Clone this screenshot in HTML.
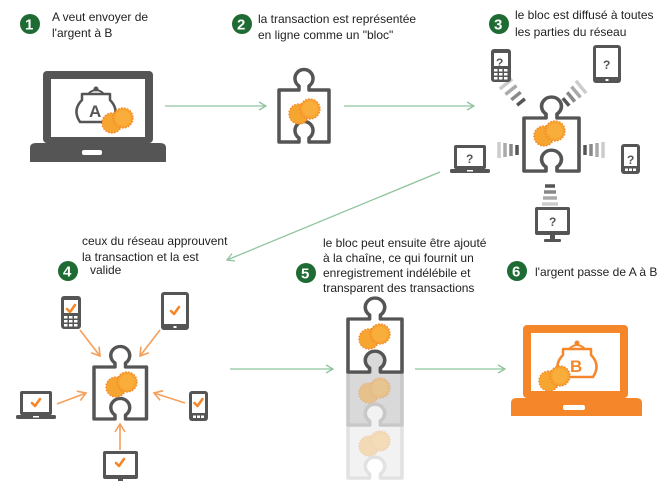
<!DOCTYPE html>
<html><head><meta charset="utf-8"><style>
html,body{margin:0;padding:0;background:#fff;}
svg{display:block;}
text{font-family:"Liberation Sans",sans-serif;font-size:12px;fill:#222;}
.b{font-family:"Liberation Sans",sans-serif;font-weight:bold;font-size:15px;fill:#fff;}
</style></head><body>
<svg width="661" height="481" viewBox="0 0 661 481" xmlns="http://www.w3.org/2000/svg">
<defs>
<g id="pz"><path d="M0,0 H20 V-4 A9 9 0 1 1 30 -4 V0 H50 V52 H30 V48 A9 9 0 1 0 20 48 V52 H0 Z" stroke-linejoin="round"/></g>
<g id="coins">
<circle cx="-5" cy="3" r="10" fill="#f7a531" stroke="#f5872a" stroke-width="1.5" stroke-dasharray="1.5 1.5"/>
<circle cx="6" cy="-2" r="10" fill="#f7a531" stroke="#f5872a" stroke-width="1.5" stroke-dasharray="1.5 1.5"/>
<circle cx="6" cy="-2" r="7.5" fill="#f9ad3a"/>
</g>
<marker id="ag" markerWidth="10" markerHeight="10" refX="8" refY="5" orient="auto" markerUnits="userSpaceOnUse"><path d="M1,1 L8,5 L1,9" fill="none" stroke="#8fc49f" stroke-width="1.3"/></marker>
<marker id="ao" markerWidth="12" markerHeight="12" refX="9" refY="6" orient="auto" markerUnits="userSpaceOnUse"><path d="M1,1 L9,6 L1,11" fill="none" stroke="#f5a05a" stroke-width="1.6"/></marker>
<g id="phone"><rect x="0" y="0" width="20" height="33" rx="3" fill="#555"/><rect x="3" y="4" width="14" height="13" fill="#fff"/><g fill="#fff"><rect x="3" y="20" width="3.5" height="2.5"/><rect x="8" y="20" width="3.5" height="2.5"/><rect x="13" y="20" width="3.5" height="2.5"/><rect x="3" y="24" width="3.5" height="2.5"/><rect x="8" y="24" width="3.5" height="2.5"/><rect x="13" y="24" width="3.5" height="2.5"/><rect x="3" y="28" width="3.5" height="2.5"/><rect x="8" y="28" width="3.5" height="2.5"/><rect x="13" y="28" width="3.5" height="2.5"/></g></g>
<g id="tablet"><rect x="0" y="0" width="28" height="38" rx="3" fill="#555"/><rect x="3" y="3" width="22" height="29" fill="#fff"/><rect x="12.5" y="34" width="3" height="2" fill="#fff"/></g>
<g id="laptop"><rect x="4" y="0" width="32" height="24" rx="2" fill="#555"/><rect x="7" y="3" width="26" height="18" fill="#fff"/><rect x="0" y="24" width="40" height="4" rx="1.5" fill="#555"/><rect x="17" y="25" width="6" height="1.5" fill="#fff"/></g>
<g id="sphone"><rect x="0" y="0" width="19" height="30" rx="3" fill="#555"/><rect x="3" y="3" width="13" height="19" fill="#fff"/><rect x="4" y="24.5" width="3" height="2.5" fill="#fff"/><rect x="8" y="24.5" width="3" height="2.5" fill="#fff"/><rect x="12" y="24.5" width="3" height="2.5" fill="#fff"/></g>
<g id="mon"><rect x="0" y="0" width="35" height="28" rx="2" fill="#555"/><rect x="3" y="3" width="29" height="21" fill="#fff"/><rect x="15" y="28" width="5" height="4" fill="#555"/><rect x="9" y="32" width="17" height="3" rx="1" fill="#555"/></g>
<path id="ck" d="M-4,0 L-1,3 L4,-4" fill="none" stroke="#f5872a" stroke-width="2.6" stroke-linecap="round" stroke-linejoin="round"/>
</defs>

<!-- badges -->
<g fill="#1f6b34">
<circle cx="30" cy="24" r="10"/><circle cx="242" cy="24" r="10"/><circle cx="499" cy="24" r="10"/>
<circle cx="68" cy="271" r="10"/><circle cx="306" cy="273" r="10"/><circle cx="517" cy="271" r="10"/>
</g>
<text class="b" x="25" y="29.5">1</text><text class="b" x="237" y="29.5">2</text><text class="b" x="494" y="29.5">3</text>
<text class="b" x="63" y="276.5">4</text><text class="b" x="301" y="278.5">5</text><text class="b" x="512" y="276.5">6</text>

<text x="52" y="21">A veut envoyer de</text><text x="52" y="37">l'argent à B</text>
<text x="258" y="23">la transaction est représentée</text><text x="258" y="39">en ligne comme un "bloc"</text>
<text x="515" y="19">le bloc est diffusé à toutes</text><text x="515" y="36">les parties du réseau</text>
<text x="82" y="245">ceux du réseau approuvent</text><text x="82" y="261">la transaction et la est</text><text x="90" y="274">valide</text>
<text x="323" y="247">le bloc peut ensuite être ajouté</text><text x="323" y="262">à la chaîne, ce qui fournit un</text><text x="323" y="277">enregistrement indélébile et</text><text x="323" y="292">transparent des transactions</text>
<text x="535" y="276">l'argent passe de A à B</text>

<!-- laptop A -->
<rect x="43" y="71" width="110" height="72" rx="4" fill="#555"/>
<rect x="51" y="79" width="94" height="58" fill="#fff"/>
<path d="M30,148 Q30,143 36,143 H160 Q166,143 166,148 V162 H30 Z" fill="#555"/>
<rect x="82" y="150" width="20" height="5" rx="2" fill="#fff"/>
<path d="M82,94 H110 V100 Q120,110 112,122 H80 Q72,110 82,100 Z" fill="none" stroke="#555" stroke-width="2.5" stroke-linejoin="round"/>
<circle cx="96" cy="89" r="2.5" fill="#555"/><path d="M88,94 Q96,86 104,94" fill="none" stroke="#555" stroke-width="2"/>
<text x="89" y="117" style="font-size:17px;font-weight:bold;fill:#555">A</text>
<use href="#coins" x="117" y="120"/>

<!-- arrows green -->
<g stroke="#8fc49f" stroke-width="1.3" fill="none" marker-end="url(#ag)">
<line x1="165" y1="106" x2="266" y2="106"/>
<line x1="344" y1="106" x2="474" y2="106"/>
<line x1="440" y1="172" x2="227" y2="260"/>
<line x1="230" y1="369" x2="333" y2="369"/>
<line x1="415" y1="369" x2="505" y2="369"/>
</g>

<!-- puzzle 2 -->
<use href="#pz" transform="translate(279,90)" fill="#fff" stroke="#555" stroke-width="3.5"/>
<use href="#coins" x="304" y="111"/>

<!-- waves -->
<g fill="none" stroke-width="3.5">
<g stroke="#555"><path d="M517.1,105.2 L524.9,98.9"/><path d="M562.8,98.2 L569.2,105.8"/><path d="M517,145 v10"/><path d="M585,145 v10"/><path d="M545,186 h10"/></g>
<g stroke="#888"><path d="M511.3,99.8 L520.7,92.2"/><path d="M567.2,92.4 L574.8,101.6"/><path d="M511,144 v12"/><path d="M591,144 v12"/><path d="M544,192 h12"/></g>
<g stroke="#aaa"><path d="M505.5,94.4 L516.5,85.6"/><path d="M571.5,86.6 L580.5,97.4"/><path d="M505,143 v14"/><path d="M597,143 v14"/><path d="M543,198 h14"/></g>
<g stroke="#ccc"><path d="M499.8,89 L512.2,79"/><path d="M575.9,80.8 L586.1,93.2"/><path d="M499,142 v16"/><path d="M603,142 v16"/><path d="M542,204 h16"/></g>
</g>
<!-- puzzle 3 -->
<use href="#pz" transform="translate(524,118) scale(1.1,1.02)" fill="#fff" stroke="#555" stroke-width="3.3"/>
<use href="#coins" x="549" y="133"/>
<use href="#phone" x="491" y="49"/><text x="496" y="67" style="font-weight:bold;font-size:12px;fill:#555">?</text>
<use href="#tablet" x="593" y="45"/><text x="603" y="69" style="font-weight:bold;font-size:12px;fill:#555">?</text>
<use href="#laptop" x="450" y="145"/><text x="466" y="163" style="font-weight:bold;font-size:12px;fill:#555">?</text>
<use href="#sphone" x="621" y="144"/><text x="627" y="164" style="font-weight:bold;font-size:12px;fill:#555">?</text>
<use href="#mon" x="535" y="207"/><text x="549" y="226" style="font-weight:bold;font-size:12px;fill:#555">?</text>

<!-- section 4 -->
<g stroke="#f5a05a" stroke-width="1.6" marker-end="url(#ao)">
<line x1="80" y1="330" x2="100" y2="356"/>
<line x1="160" y1="330" x2="140" y2="356"/>
<line x1="57" y1="404" x2="86" y2="393"/>
<line x1="185" y1="403" x2="154" y2="393"/>
<line x1="120" y1="450" x2="120" y2="424"/>
</g>
<use href="#pz" transform="translate(94,367) scale(1.05,1.0)" fill="#fff" stroke="#555" stroke-width="3.3"/>
<use href="#coins" x="121" y="384"/>
<use href="#phone" x="61" y="296"/><use href="#ck" x="71" y="309"/>
<use href="#tablet" x="161" y="292"/><use href="#ck" x="175" y="311"/>
<use href="#laptop" x="16" y="391"/><use href="#ck" x="36" y="403"/>
<use href="#sphone" x="189" y="391"/><use href="#ck" x="198.5" y="403"/>
<use href="#mon" x="103" y="451"/><use href="#ck" x="120" y="463"/>

<!-- section 5 stack -->
<use href="#pz" transform="translate(348,425) scale(1.08,1.02)" fill="#f2f2f2" stroke="#e2e2e2" stroke-width="3.3"/>
<use href="#coins" x="374" y="443" opacity="0.3"/>
<use href="#pz" transform="translate(348,372) scale(1.08,1.02)" fill="#d9d9d9" stroke="#c8c8c8" stroke-width="3.3"/>
<use href="#coins" x="374" y="390" opacity="0.45"/>
<use href="#pz" transform="translate(348,319) scale(1.08,1.02)" fill="#fff" stroke="#555" stroke-width="3.3"/>
<use href="#coins" x="374" y="336"/>

<!-- laptop B -->
<rect x="523" y="325" width="105" height="73" rx="4" fill="#f5872a"/>
<rect x="531" y="333" width="89" height="58" fill="#fff"/>
<path d="M511,403 Q511,398 517,398 H636 Q642,398 642,403 V416 H511 Z" fill="#f5872a"/>
<rect x="563" y="405" width="22" height="5" rx="2" fill="#fff"/>
<path d="M563,349 H591 V355 Q601,365 593,377 H561 Q553,365 563,355 Z" fill="none" stroke="#f5872a" stroke-width="2.5" stroke-linejoin="round"/>
<circle cx="577" cy="343" r="2.5" fill="#f5872a"/><path d="M569,349 Q577,341 585,349" fill="none" stroke="#f5872a" stroke-width="2"/>
<text x="570" y="372" style="font-size:17px;font-weight:bold;fill:#f5872a">B</text>
<use href="#coins" x="554" y="378"/>
</svg>
</body></html>
